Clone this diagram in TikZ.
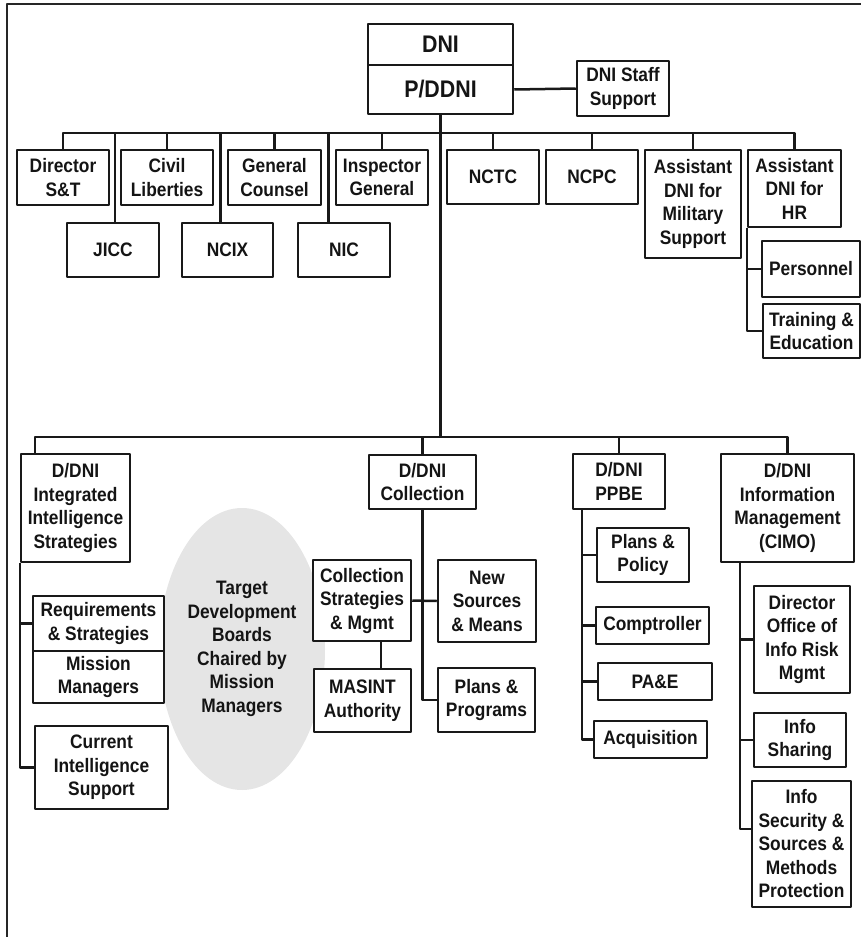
\documentclass[tikz,border=0pt]{standalone}
\usepackage{fontspec}
\setmainfont{Liberation Sans}[FakeStretch=0.89]
\usetikzlibrary{shapes.geometric}
\begin{document}
\begin{tikzpicture}[x=1pt,y=-1pt,line width=2.5pt,line join=round,draw=black!90,
	font=\bfseries\fontsize{19.5}{23.5}\selectfont,
	box/.style={draw=black!90,fill=white,align=center,inner sep=0pt,text=black!92},
	sz/.style 2 args={minimum width=#1pt,minimum height=#2pt},
	big/.style={font=\bfseries\fontsize{24}{28}\selectfont}]
	\useasboundingbox (0,0) rectangle (861,937);
	\draw[black!85] (861,4) -- (7,4) -- (7,937);
	\coordinate (bus1) at (0,133);
	\coordinate (bus2) at (0,437);
	\node[ellipse,fill=black!10,sz={166}{282},align=center,text=black!92] (tdb) at (242,649) {Target\\Development\\Boards\\Chaired by\\Mission\\Managers};
	\node[box,big,sz={145}{41}] (dni) at (440.5,44.5) {DNI};
	\node[box,big,sz={145}{49}] (pddni) at (440.5,89.5) {P/DDNI};
	\node[box,sz={92}{55}] (staff) at (623,88.5) {DNI Staff\\Support};
	\node[box,sz={92}{55}] (dirst) at (63,177.5) {Director\\S\&T};
	\node[box,sz={92}{55}] (civil) at (167,177.5) {Civil\\Liberties};
	\node[box,sz={93}{55}] (counsel) at (274.5,177.5) {General\\Counsel};
	\node[box,sz={92}{55}] (inspector) at (382,177.5) {Inspector\\General};
	\node[box,sz={92}{54}] (nctc) at (493,177) {NCTC};
	\node[box,sz={92}{54}] (ncpc) at (592,177) {NCPC};
	\node[box,sz={96}{108}] (milsup) at (693,204) {Assistant\\DNI for\\Military\\Support};
	\node[box,sz={93}{77}] (hr) at (794.5,188.5) {Assistant\\DNI for\\HR};
	\node[box,sz={98}{56}] (personnel) at (811,269) {Personnel};
	\node[box,sz={97}{54}] (training) at (811.5,331) {Training \&\\Education};
	\node[box,sz={92}{54}] (jicc) at (113,250) {JICC};
	\node[box,sz={91}{54}] (ncix) at (227.5,250) {NCIX};
	\node[box,sz={92}{54}] (nic) at (344,250) {NIC};
	\node[box,sz={109}{108}] (iis) at (75.5,508) {D/DNI\\Integrated\\Intelligence\\Strategies};
	\node[box,sz={107}{54}] (coll) at (422.5,482) {D/DNI\\Collection};
	\node[box,sz={92}{55}] (ppbe) at (619,481.5) {D/DNI\\PPBE};
	\node[box,sz={133}{108}] (cimo) at (787.5,508) {D/DNI\\Information\\Management\\(CIMO)};
	\node[box,sz={131}{55}] (req) at (98.5,623.5) {Requirements\\\& Strategies};
	\node[box,sz={131}{52}] (mm) at (98.5,677) {Mission\\Managers};
	\node[box,sz={133}{83}] (cis) at (101.5,767.5) {Current\\Intelligence\\Support};
	\node[box,sz={98}{81}] (colstrat) at (362,600.5) {Collection\\Strategies\\\& Mgmt};
	\node[box,sz={98}{82}] (newsrc) at (487,601) {New\\Sources\\\& Means};
	\node[box,sz={97}{64}] (plprog) at (486.5,700) {Plans \&\\Programs};
	\node[box,sz={97}{63}] (masint) at (362.5,700.5) {MASINT\\Authority};
	\node[box,sz={92}{54}] (policy) at (643,555) {Plans \&\\Policy};
	\node[box,sz={113}{37}] (compt) at (652.5,625.5) {Comptroller};
	\node[box,sz={114}{37}] (pae) at (655,681.5) {PA\&E};
	\node[box,sz={113}{37}] (acq) at (650.5,739.5) {Acquisition};
	\node[box,sz={96}{107}] (risk) at (802,639.5) {Director\\Office of\\Info Risk\\Mgmt};
	\node[box,sz={92}{54}] (share) at (800,740) {Info\\Sharing};
	\node[box,sz={99}{126}] (infosec) at (801.5,844) {Info\\Security \&\\Sources \&\\Methods\\Protection};
	\draw (pddni.east) -- (staff.west);
	\draw (pddni.south) -- (pddni.south |- bus2);
	\draw (dirst.north) |- (hr.north |- bus1) -- (hr.north);
	\foreach \n in {civil,counsel,inspector,nctc,ncpc,milsup}
	\draw (\n.north) -- (\n.north |- bus1);
	\foreach \a/\b/\c in {dirst/civil/jicc,civil/counsel/ncix,counsel/inspector/nic}
	{\path (\a.east) -- (\b.west) coordinate[midway] (gap);
	\draw (gap |- bus1) -- (gap |- \c.north);}
	\draw (hr.south west) |- (training.west);
	\draw (hr.south west |- personnel.west) -- (personnel.west);
	\draw ([xshift=15pt]iis.north west) |- (cimo.north |- bus2) -- (cimo.north);
	\foreach \n in {coll,ppbe}
	\draw (\n.north) -- (\n.north |- bus2);
	\draw (iis.south west) |- (cis.west);
	\draw (iis.south west |- req.west) -- (req.west);
	\draw (coll.south) |- (plprog.west);
	\draw (colstrat.east) -- (newsrc.west);
	\draw ([xshift=19pt]colstrat.south) -- ([xshift=19pt]colstrat.south |- masint.north);
	\draw ([xshift=10pt]ppbe.south west) |- (acq.west);
	\foreach \n in {policy,compt,pae}
	\draw ([xshift=10pt]ppbe.south west |- \n.west) -- (\n.west);
	\draw ([xshift=20pt]cimo.south west) |- ([yshift=15pt]infosec.west);
	\foreach \n in {risk,share}
	\draw ([xshift=20pt]cimo.south west |- \n.west) -- (\n.west);
\end{tikzpicture}
\end{document}
